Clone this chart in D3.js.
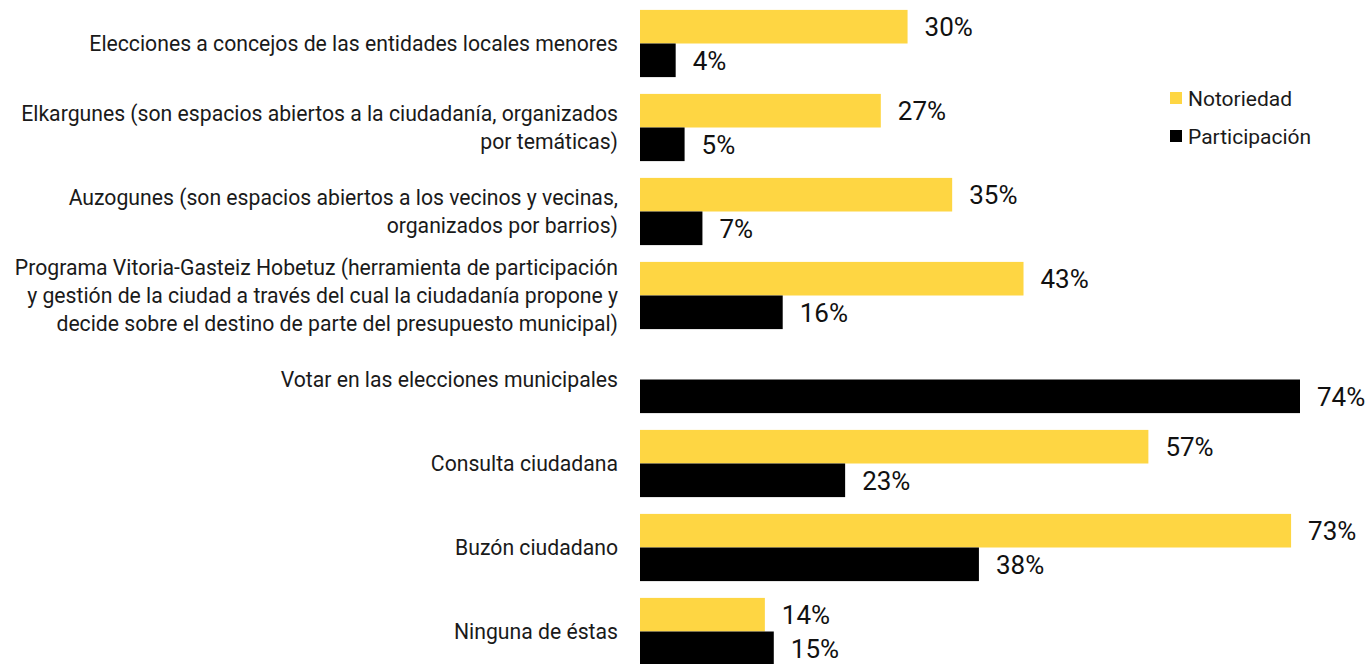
<!DOCTYPE html>
<html>
<head>
<meta charset="utf-8">
<script src="https://cdn.jsdelivr.net/npm/d3@7"></script>
<style>
  body { margin: 0; background: #fff; }
  svg { display: block; font-family: Roboto, "Noto Sans", sans-serif; }
</style>
</head>
<body>
<svg id="chart" width="1371" height="664"></svg>
<script>
// categories, one entry per group, split in lines as shown
const categories = [
  ["Elecciones a concejos de las entidades locales menores"],
  ["Elkargunes (son espacios abiertos a la ciudadanía, organizados", "por temáticas)"],
  ["Auzogunes (son espacios abiertos a los vecinos y vecinas,", "organizados por barrios)"],
  ["Programa Vitoria-Gasteiz Hobetuz (herramienta de participación", "y gestión de la ciudad a través del cual la ciudadanía propone y", "decide sobre el destino de parte del presupuesto municipal)"],
  ["Votar en las elecciones municipales"],
  ["Consulta ciudadana"],
  ["Buzón ciudadano"],
  ["Ninguna de éstas"]
];
const seriesNames = ["Notoriedad", "Participación"];
const notoriedad = [30, 27, 35, 43, null, 57, 73, 14];
const participacion = [4, 5, 7, 16, 74, 23, 38, 15];
const colors = ["#fed643", "#000000"];

const svg = d3.select("#chart");

const x = d3.scaleLinear().domain([0, 74]).range([640, 1300]);

const y = d3.scaleBand()
  .domain(d3.range(categories.length))
  .range([1.5, 673.5])
  .paddingInner(0.2)
  .paddingOuter(0.1);

const ySub = d3.scaleBand()
  .domain(seriesNames)
  .range([0, y.bandwidth()]);

const rows = [];
categories.forEach((c, i) => {
  rows.push({ i: i, s: seriesNames[0], v: notoriedad[i] });
  rows.push({ i: i, s: seriesNames[1], v: participacion[i] });
});
const shown = rows.filter(d => d.v != null);

// bars
svg.append("g")
  .selectAll("rect")
  .data(shown)
  .join("rect")
  .attr("x", x(0))
  .attr("y", d => y(d.i) + ySub(d.s))
  .attr("width", d => x(d.v) - x(0))
  .attr("height", ySub.bandwidth())
  .attr("fill", d => colors[seriesNames.indexOf(d.s)]);

// value labels
svg.append("g")
  .selectAll("text")
  .data(shown)
  .join("text")
  .attr("x", d => x(d.v) + 17)
  .attr("y", d => y(d.i) + ySub(d.s) + ySub.bandwidth() / 2)
  .attr("dy", "0.36em")
  .attr("font-size", 26)
  .attr("fill", "#111")
  .text(d => d.v + "%");

// category labels
const lineH = 28;
const cat = svg.append("g")
  .selectAll("text")
  .data(categories)
  .join("text")
  .attr("text-anchor", "end")
  .attr("font-size", 21.2)
  .attr("fill", "#1a1a1a")
  .attr("y", (d, i) => y(i) + y.bandwidth() / 2 - (d.length - 1) * lineH / 2);

cat.selectAll("tspan")
  .data(d => d)
  .join("tspan")
  .attr("x", 618)
  .attr("dy", (d, j) => j === 0 ? "0.36em" : lineH)
  .text(d => d);

// legend
const legend = svg.append("g")
  .selectAll("g")
  .data(seriesNames)
  .join("g")
  .attr("transform", (d, i) => `translate(1170, ${98 + i * 38})`);

legend.append("rect")
  .attr("x", 0)
  .attr("y", -6)
  .attr("width", 12)
  .attr("height", 12)
  .attr("fill", (d, i) => colors[i]);

legend.append("text")
  .attr("x", 18)
  .attr("dy", "0.36em")
  .attr("font-size", 21)
  .attr("fill", "#1a1a1a")
  .text(d => d);
</script>
</body>
</html>
